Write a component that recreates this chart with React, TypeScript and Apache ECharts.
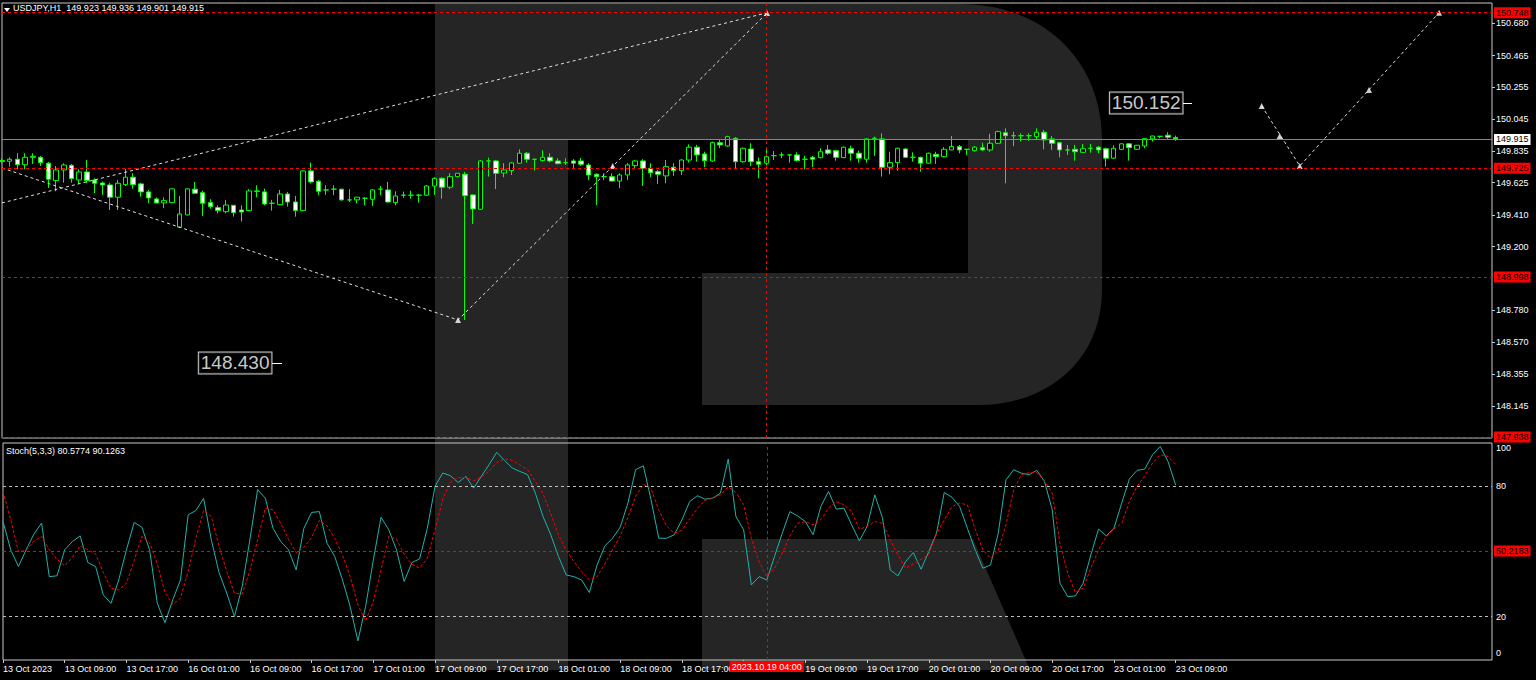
import React, { useEffect, useRef } from "react";
import * as echarts from "echarts";

// ---------- DATA ----------
const opens = [149.764,149.766,149.779,149.743,149.792,149.792,149.753,149.638,149.708,149.739,
149.642,149.695,149.642,149.622,149.609,149.528,149.611,149.660,149.616,149.563,
149.516,149.490,149.492,149.329,149.410,149.581,149.558,149.492,149.459,149.432,
149.474,149.443,149.439,149.569,149.563,149.488,149.478,149.549,149.496,149.439,
149.702,149.633,149.576,149.581,149.581,149.510,149.510,149.521,149.514,149.581,
149.576,149.492,149.541,149.541,149.541,149.541,149.602,149.653,149.594,149.664,
149.680,149.543,149.448,149.768,149.768,149.688,149.704,149.753,149.819,149.779,
149.770,149.792,149.768,149.757,149.768,149.768,149.741,149.680,149.664,149.664,
149.635,149.675,149.737,149.768,149.719,149.697,149.669,149.726,149.704,149.774,
149.859,149.814,149.768,149.889,149.867,149.918,149.763,149.847,149.763,149.753,
149.803,149.808,149.808,149.808,149.779,149.792,149.790,149.841,149.836,149.790,
149.849,149.819,149.779,149.918,149.914,149.726,149.757,149.847,149.792,149.792,
149.753,149.812,149.796,149.841,149.863,149.845,149.836,149.856,149.841,149.885,
149.955,149.935,149.935,149.935,149.929,149.958,149.914,149.889,149.841,149.845,
149.825,149.852,149.859,149.849,149.786,149.845,149.881,149.845,149.867,149.914,
149.931,149.938,149.923];

const highs = [149.787,149.792,149.819,149.819,149.819,149.801,149.761,149.735,149.753,149.748,
149.713,149.774,149.653,149.631,149.624,149.642,149.713,149.686,149.624,149.576,
149.527,149.527,149.587,149.536,149.587,149.629,149.571,149.514,149.474,149.510,
149.474,149.474,149.581,149.607,149.584,149.510,149.576,149.563,149.536,149.708,
149.757,149.642,149.607,149.607,149.584,149.581,149.528,149.528,149.581,149.602,
149.629,149.567,149.565,149.571,149.549,149.607,149.660,149.660,149.686,149.686,
149.695,149.545,149.774,149.790,149.774,149.753,149.761,149.845,149.827,149.781,
149.839,149.819,149.786,149.786,149.779,149.788,149.753,149.686,149.686,149.686,
149.686,149.753,149.774,149.779,149.753,149.708,149.774,149.753,149.779,149.878,
149.874,149.829,149.896,149.907,149.935,149.925,149.856,149.885,149.792,149.841,
149.834,149.825,149.810,149.825,149.801,149.801,149.852,149.874,149.841,149.863,
149.869,149.836,149.918,149.929,149.951,149.829,149.856,149.852,149.825,149.796,
149.823,149.829,149.859,149.933,149.874,149.847,149.867,149.889,149.947,149.968,
149.984,149.962,149.951,149.951,149.984,149.973,149.933,149.894,149.874,149.874,
149.881,149.881,149.867,149.856,149.872,149.885,149.885,149.874,149.918,149.935,
149.933,149.958,149.936];

const lows = [149.751,149.730,149.713,149.713,149.748,149.735,149.589,149.567,149.624,149.624,
149.616,149.620,149.554,149.543,149.443,149.443,149.602,149.584,149.531,149.488,
149.488,149.455,149.488,149.324,149.408,149.549,149.403,149.452,149.421,149.421,
149.399,149.366,149.435,149.528,149.474,149.439,149.474,149.465,149.399,149.435,
149.620,149.541,149.543,149.541,149.505,149.496,149.488,149.474,149.470,149.541,
149.492,149.474,149.523,149.518,149.492,149.536,149.543,149.518,149.581,149.660,
148.715,149.351,149.443,149.664,149.582,149.660,149.675,149.748,149.757,149.704,
149.763,149.759,149.746,149.741,149.713,149.735,149.642,149.476,149.642,149.631,
149.587,149.642,149.719,149.602,149.660,149.616,149.620,149.669,149.675,149.757,
149.763,149.726,149.763,149.852,149.862,149.713,149.757,149.735,149.653,149.741,
149.774,149.786,149.757,149.765,149.713,149.726,149.786,149.808,149.770,149.786,
149.770,149.757,149.757,149.801,149.664,149.680,149.704,149.786,149.763,149.697,
149.748,149.748,149.792,149.841,149.819,149.808,149.829,149.836,149.829,149.881,
149.620,149.867,149.896,149.902,149.907,149.845,149.841,149.792,149.808,149.770,
149.823,149.823,149.819,149.730,149.781,149.841,149.770,149.841,149.852,149.896,
149.918,149.914,149.901];

const closes = [149.771,149.779,149.743,149.792,149.798,149.757,149.647,149.708,149.741,149.651,
149.695,149.638,149.620,149.609,149.528,149.620,149.660,149.611,149.563,149.523,
149.490,149.505,149.583,149.417,149.583,149.554,149.488,149.465,149.439,149.476,
149.425,149.430,149.569,149.567,149.483,149.488,149.549,149.496,149.439,149.702,
149.629,149.567,149.576,149.581,149.510,149.510,149.528,149.521,149.576,149.581,
149.496,149.536,149.541,149.541,149.541,149.602,149.653,149.594,149.664,149.686,
149.538,149.450,149.768,149.768,149.686,149.708,149.755,149.819,149.779,149.779,
149.792,149.768,149.750,149.757,149.753,149.746,149.675,149.664,149.664,149.635,
149.675,149.741,149.768,149.719,149.690,149.680,149.730,149.704,149.774,149.859,
149.808,149.770,149.889,149.874,149.929,149.763,149.852,149.763,149.746,149.796,
149.803,149.808,149.808,149.770,149.779,149.779,149.829,149.819,149.792,149.859,
149.819,149.786,149.914,149.918,149.726,149.757,149.852,149.792,149.792,149.753,
149.819,149.796,149.845,149.863,149.841,149.845,149.859,149.841,149.885,149.962,
149.935,149.935,149.935,149.935,149.958,149.907,149.885,149.841,149.841,149.829,
149.849,149.852,149.841,149.786,149.852,149.881,149.856,149.872,149.916,149.933,
149.931,149.925,149.915];

const stochK = [63.8,50.8,43.1,50.8,58.0,63.1,38.4,38.8,50.8,54.6,
57.2,44.9,43.1,30.0,26.1,36.9,50.8,63.4,61.2,50.8,
26.1,17.2,27.7,36.9,66.9,68.9,74.5,55.4,40.3,30.8,
20.0,33.8,55.4,78.5,74.6,60.7,54.6,50.8,41.5,60.7,
68.0,68.4,53.8,47.7,36.9,24.6,8.8,24.6,46.1,65.8,
60.0,50.8,36.2,44.9,46.6,60.7,80.0,86.2,84.9,81.8,
84.6,79.2,84.6,90.0,95.7,92.0,88.5,86.9,85.4,76.9,
66.1,57.7,47.7,39.2,38.4,36.9,31.1,43.8,52.5,56.1,
61.2,72.3,87.7,89.5,73.8,56.1,56.1,57.7,64.6,73.0,
75.7,74.1,74.6,76.9,92.6,66.1,60.0,34.6,38.4,36.9,
47.7,58.4,68.4,66.4,63.8,57.7,70.7,77.7,69.5,70.0,
62.3,54.9,61.5,76.1,65.4,41.5,38.8,45.4,49.5,41.8,
50.0,58.4,77.2,75.0,70.7,60.7,50.8,42.3,43.8,58.4,
83.0,87.7,86.1,85.4,87.4,82.3,69.2,35.4,29.2,29.5,
35.4,48.4,60.3,57.2,60.7,72.3,83.4,87.4,88.0,94.6,
98.4,91.5,80.5774];

const stochD = [77.7,64.6,50.0,50.4,54.9,56.9,50.8,46.4,43.4,47.4,
52.6,50.8,48.9,40.3,33.0,32.3,35.4,45.8,56.9,54.1,
44.3,31.1,25.7,28.4,40.8,56.1,68.9,66.1,52.6,40.8,
30.8,30.4,41.2,55.4,70.0,69.2,63.0,55.7,49.5,52.0,
56.4,64.3,61.8,56.0,48.4,38.4,25.4,18.0,26.9,41.5,
56.9,55.7,48.7,44.1,42.4,46.9,60.0,74.1,82.0,84.1,
84.1,82.6,84.3,87.0,91.0,92.7,92.0,89.8,87.7,82.3,
76.6,67.4,57.7,50.4,45.4,40.8,36.9,38.3,44.3,50.8,
57.2,65.7,75.4,81.0,78.9,69.2,61.8,58.4,59.8,65.0,
69.8,73.7,74.6,76.1,79.8,77.2,71.5,56.1,45.4,38.4,
42.3,49.2,57.2,63.0,63.8,62.3,64.6,70.0,73.0,71.5,
68.4,60.3,61.5,63.8,63.0,55.4,48.4,42.3,44.3,46.4,
48.7,58.1,64.6,70.7,72.3,71.5,60.3,50.8,46.9,50.4,
62.3,78.4,85.5,86.3,86.4,82.3,76.9,53.8,40.0,31.1,
33.1,42.3,50.8,56.9,60.3,63.0,73.0,80.0,84.9,90.7,
94.6,93.8,90.1263];

// tick labels every 8 bars; the 19 Oct 01:00 label is hidden under the crosshair date box
const xTickLabels = ["13 Oct 2023","13 Oct 09:00","13 Oct 17:00","16 Oct 01:00","16 Oct 09:00",
  "16 Oct 17:00","17 Oct 01:00","17 Oct 09:00","17 Oct 17:00","18 Oct 01:00","18 Oct 09:00",
  "18 Oct 17:00","","19 Oct 09:00","19 Oct 17:00","20 Oct 01:00","20 Oct 09:00",
  "20 Oct 17:00","23 Oct 01:00","23 Oct 09:00"];
const priceTicks = [150.680,150.465,150.255,150.045,149.835,149.625,149.410,149.200,148.780,148.570,148.355,148.145];
const levelLines = [150.748, 149.725, 148.998, 147.938];
const bidPrice = 149.915;
const stochTicks = [0, 20, 80, 100];
const stochLevels = [80, 20];
const stochCrossValue = 50.2183;
const crossIndex = 99;
const crossLabel = "2023.10.19 04:00";

// drawn objects, in (bar index, price)
const upperTrend = [[0, 149.490], [99, 150.748]];
const zigzag = [[0, 149.721], [59.07, 148.715], [99.09, 150.748]];
const zigzagMarks = [[59.07, 148.715], [79.1, 149.735], [99.09, 150.748]];
const forecast = [[163.17, 150.132], [168.1, 149.735], [186.14, 150.750]];
const forecastMarks = [[163.17, 150.132], [165.5, 149.933], [168.1, 149.735], [177.07, 150.238], [186.14, 150.750]];
const priceTags = [
  { text: "148.430", price: 148.430, at: 34.97, tickTo: 36.27 },
  { text: "150.152", price: 150.152, at: 152.98, tickTo: 154.14 },
];

const headerText = "USDJPY,H1  149.923 149.936 149.901 149.915";
const stochHeader = "Stoch(5,3,3) 80.5774 90.1263";

// ---------- CHART ----------
const CATEGORY_COUNT = 194;
const categories = Array.from({ length: CATEGORY_COUNT }, (_, i) => String(i));
const FONT = "'Liberation Sans', Arial, sans-serif";
const R_COLOR = "#252525";
const R_BOWL =
  "M568 4 L960 4 C1045 4 1102 62 1102 140 L1102 290 C1102 358 1050 405 978 405 L702 405 L702 273 L968 273 L968 140 L568 140 Z";

let shapesRegistered = false;
function registerShapes() {
  if (shapesRegistered) return;
  echarts.graphic.registerShape("rBowl", echarts.graphic.extendPath(R_BOWL, {}) as any);
  shapesRegistered = true;
}

const showTick = (index: number) => index % 8 === 0 && index <= 152;

function buildOption(): any {
  const candleData = opens.map((o, i) => [o, closes[i], lows[i], highs[i]]);
  const redLabel = {
    show: true,
    position: "end",
    distance: 2,
    backgroundColor: "#ff0000",
    color: "#000",
    fontSize: 9,
    fontFamily: FONT,
    padding: [1, 2, 0, 2],
    lineHeight: 10,
  };
  const whiteDash = { color: "#e0e0e0", type: [3, 3], width: 1 };

  return {
    animation: false,
    backgroundColor: "#000",
    grid: [
      { left: 2, right: 44, top: 3, height: 435, show: true, borderColor: "#c8c8c8", borderWidth: 1, backgroundColor: "transparent" },
      { left: 2, right: 44, top: 443, height: 217, show: true, borderColor: "#c8c8c8", borderWidth: 1, backgroundColor: "transparent" },
    ],
    xAxis: [
      { type: "category", gridIndex: 0, data: categories, boundaryGap: false, show: false, axisLine: { onZero: false } },
      { type: "value", gridIndex: 0, min: 0, max: CATEGORY_COUNT - 1, show: false, axisLine: { onZero: false } },
      {
        type: "category",
        gridIndex: 1,
        data: categories,
        boundaryGap: false,
        axisLine: { show: false, onZero: false },
        splitLine: { show: false },
        axisTick: { show: true, length: 3, interval: showTick, lineStyle: { color: "#c8c8c8" } },
        axisLabel: {
          interval: showTick,
          formatter: (_v: string, idx: number) => xTickLabels[idx / 8] ?? "",
          align: "left",
          color: "#ffffff",
          fontSize: 9,
          fontFamily: FONT,
          margin: 4,
        },
      },
    ],
    yAxis: [
      {
        type: "value",
        gridIndex: 0,
        position: "right",
        min: 147.933,
        max: 150.814,
        splitLine: { show: false },
        axisLine: { show: false, onZero: false },
        axisTick: { show: true, length: 3, customValues: priceTicks, lineStyle: { color: "#c8c8c8" } },
        axisLabel: {
          customValues: priceTicks,
          formatter: (v: number) => v.toFixed(3),
          color: "#ffffff",
          fontSize: 9,
          fontFamily: FONT,
          margin: 4,
        },
      },
      {
        type: "value",
        gridIndex: 1,
        position: "right",
        min: 0,
        max: 100,
        splitLine: { show: false },
        axisLine: { show: false, onZero: false },
        axisTick: { show: false },
        axisLabel: {
          customValues: stochTicks,
          formatter: (v: number) => (v === 100 ? "{t|100}" : v === 0 ? "{b|0}" : `{n|${v}}`),
          color: "#ffffff",
          fontSize: 9,
          fontFamily: FONT,
          margin: 4,
          rich: {
            t: { padding: [10, 0, 0, 0], color: "#fff", fontSize: 9, fontFamily: FONT },
            b: { padding: [0, 0, 14, 0], color: "#fff", fontSize: 9, fontFamily: FONT },
            n: { color: "#fff", fontSize: 9, fontFamily: FONT },
          },
        },
      },
    ],
    graphic: [
      { type: "rect", shape: { x: 435, y: 4, width: 133, height: 666 }, style: { fill: R_COLOR }, z: -10, silent: true },
      { type: "rBowl", x: 0, y: 0, scaleX: 1, scaleY: 1, style: { fill: R_COLOR }, z: -10, silent: true },
      { type: "polygon", shape: { points: [[702, 539], [973, 539], [1030, 670], [702, 670]] }, style: { fill: R_COLOR }, z: -10, silent: true },
      { type: "polygon", shape: { points: [[4, 8], [10, 8], [7, 12]] }, style: { fill: "#ffffff" }, z: 10 },
      { type: "text", x: 13, y: 3, style: { text: headerText, fill: "#ffffff", font: `9px ${FONT}` }, z: 10 },
      { type: "text", x: 6, y: 446, style: { text: stochHeader, fill: "#ffffff", font: `9px ${FONT}` }, z: 10 },
    ],
    series: [
      {
        type: "candlestick",
        xAxisIndex: 0,
        yAxisIndex: 0,
        data: candleData,
        barWidth: 5,
        z: 2,
        itemStyle: { color: "#000000", color0: "#ffffff", borderColor: "#00ff00", borderColor0: "#00ff00", borderWidth: 1 },
        markLine: {
          symbol: ["none", "none"],
          silent: true,
          animation: false,
          data: [
            ...levelLines.map((v) => ({
              yAxis: v,
              lineStyle: { color: "#ff0000", type: [3, 3], width: 1 },
              label: { ...redLabel, formatter: v.toFixed(3) },
            })),
            {
              yAxis: bidPrice,
              lineStyle: { color: "#778899", type: "solid", width: 1 },
              label: { ...redLabel, backgroundColor: "#ffffff", color: "#000000", formatter: bidPrice.toFixed(3) },
            },
          ],
        },
      },
      {
        type: "line",
        name: "upper",
        xAxisIndex: 1,
        yAxisIndex: 0,
        data: upperTrend,
        symbol: "none",
        lineStyle: whiteDash,
        z: 3,
        markLine: {
          symbol: ["none", "none"],
          silent: true,
          animation: false,
          label: { show: false },
          data: [{ xAxis: crossIndex, lineStyle: { color: "#ff0000", type: [3, 3], width: 1 } }],
        },
      },
      { type: "line", xAxisIndex: 1, yAxisIndex: 0, data: zigzag, symbol: "none", lineStyle: whiteDash, z: 3 },
      { type: "line", xAxisIndex: 1, yAxisIndex: 0, data: forecast, symbol: "none", lineStyle: whiteDash, z: 3 },
      {
        type: "scatter",
        xAxisIndex: 1,
        yAxisIndex: 0,
        data: [...zigzagMarks, ...forecastMarks],
        symbol: "triangle",
        symbolSize: 6,
        itemStyle: { color: "#ffffff" },
        z: 4,
      },
      {
        type: "scatter",
        xAxisIndex: 1,
        yAxisIndex: 0,
        data: priceTags.map((t) => ({ value: [t.at, t.price], name: t.text })),
        symbolSize: 1,
        itemStyle: { color: "rgba(0,0,0,0)" },
        z: 5,
        label: {
          show: true,
          position: "left",
          distance: 0,
          formatter: (p: any) => p.name,
          color: "#ffffff",
          fontSize: 19,
          fontFamily: FONT,
          lineHeight: 20,
          backgroundColor: "#000000",
          borderColor: "#ffffff",
          borderWidth: 1,
          padding: [1, 2, 0, 2],
        },
        markLine: {
          symbol: ["none", "none"],
          silent: true,
          animation: false,
          label: { show: false },
          lineStyle: { color: "#ffffff", type: "solid", width: 1 },
          data: priceTags.map((t) => [{ coord: [t.at, t.price] }, { coord: [t.tickTo, t.price] }]),
        },
      },
      {
        type: "line",
        name: "%K",
        xAxisIndex: 2,
        yAxisIndex: 1,
        data: stochK,
        symbol: "none",
        lineStyle: { color: "#20b2aa", width: 1 },
        z: 3,
        markLine: {
          symbol: ["none", "none"],
          silent: true,
          animation: false,
          data: [
            ...stochLevels.map((v) => ({
              yAxis: v,
              lineStyle: { color: "#c0c0c0", type: [3, 3], width: 1 },
              label: { show: false },
            })),
            {
              yAxis: stochCrossValue,
              lineStyle: { color: "#ff0000", type: [3, 3], width: 1 },
              label: { ...redLabel, formatter: String(stochCrossValue) },
            },
            {
              xAxis: String(crossIndex),
              lineStyle: { color: "#ff0000", type: [3, 3], width: 1 },
              label: { ...redLabel, position: "start", distance: 1, color: "#ffffff", formatter: crossLabel },
            },
          ],
        },
      },
      {
        type: "line",
        name: "%D",
        xAxisIndex: 2,
        yAxisIndex: 1,
        data: stochD,
        symbol: "none",
        lineStyle: { color: "#ff0000", width: 1, type: [3, 2] },
        z: 3,
      },
    ],
  };
}

export default function App() {
  const ref = useRef<HTMLDivElement>(null);
  useEffect(() => {
    if (!ref.current) return;
    registerShapes();
    const chart = echarts.init(ref.current, null, { renderer: "svg" });
    chart.setOption(buildOption());
    return () => chart.dispose();
  }, []);
  return (
    <div
      ref={ref}
      style={{ position: "fixed", left: 0, top: 0, width: 1536, height: 680, background: "#000" }}
    />
  );
}
